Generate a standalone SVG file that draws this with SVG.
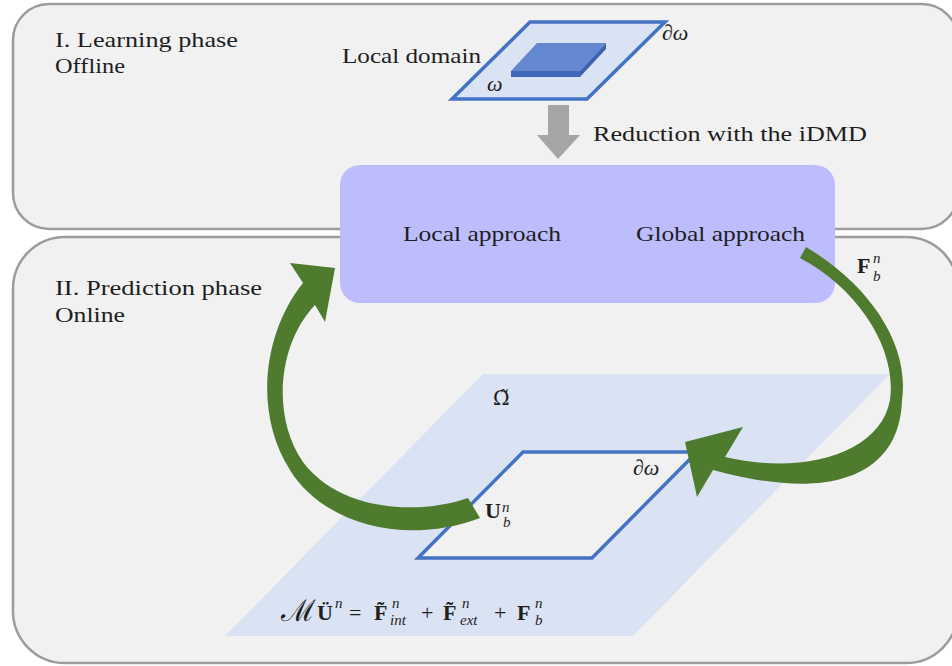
<svg xmlns="http://www.w3.org/2000/svg" width="952" height="666" viewBox="0 0 952 666">
<style>
.t{font-family:"Liberation Serif","DejaVu Serif",serif;font-size:22px;fill:#1e1e1e}
.m{font-family:"Liberation Serif","DejaVu Serif",serif;font-size:22px;fill:#1e1e1e;font-style:italic}
.b{font-family:"Liberation Serif","DejaVu Serif",serif;font-size:22px;fill:#1e1e1e;font-weight:bold}
.s{font-family:"Liberation Serif","DejaVu Serif",serif;font-size:15px;fill:#1e1e1e;font-style:italic}
.panel{fill:#f1f1f1;stroke:#9c9c9c;stroke-width:2.5}
.green{fill:#4e7b2e}
</style>
<rect width="952" height="666" fill="#ffffff"/>
<g id="learning-phase">
  <rect class="panel" x="13" y="4" width="945" height="225" rx="36"/>
  <text class="t" x="55" y="47" textLength="183" lengthAdjust="spacingAndGlyphs">I. Learning phase</text>
  <text class="t" x="55" y="73" textLength="70" lengthAdjust="spacingAndGlyphs">Offline</text>
</g>
<g id="prediction-phase">
  <rect class="panel" x="13" y="237" width="945" height="426" rx="52"/>
  <text class="t" x="55" y="295" textLength="207" lengthAdjust="spacingAndGlyphs">II. Prediction phase</text>
  <text class="t" x="55" y="322" textLength="70" lengthAdjust="spacingAndGlyphs">Online</text>
</g>
<g id="local-domain">
  <polygon points="530,22 665,22 587,99 452,99" fill="#dae3f3" stroke="#4472c4" stroke-width="3.5" stroke-linejoin="miter"/>
  <polygon points="537,43 606,43 580,71 511,71" fill="#6388d0"/>
  <polygon points="511,71 580,71 580,77 511,77" fill="#4169b9"/>
  <polygon points="580,71 606,43 606,49 580,77" fill="#3d63b0"/>
  <text class="t" x="342" y="63" textLength="139" lengthAdjust="spacingAndGlyphs">Local domain</text>
  <text class="m" x="487" y="91">ω</text>
  <text class="m" x="662" y="40">∂ω</text>
</g>
<g id="reduction">
  <polygon points="548,105 569,105 569,135 580,135 558,159 537,135 548,135" fill="#a5a5a5"/>
  <text class="t" x="593" y="141" textLength="274" lengthAdjust="spacingAndGlyphs">Reduction with the iDMD</text>
</g>
<g id="approaches">
  <rect x="340" y="165" width="495" height="138" rx="20" fill="#bdbdfd"/>
  <text class="t" x="403" y="241" textLength="158" lengthAdjust="spacingAndGlyphs">Local approach</text>
  <text class="t" x="636" y="241" textLength="169" lengthAdjust="spacingAndGlyphs">Global approach</text>
</g>
<g id="global-domain">
  <polygon points="483,374 890,374 633,636 225,636" fill="#dae3f3"/>
  <text class="t" x="493" y="405" style="font-family:'DejaVu Serif',serif;font-size:20px">Ω̃</text>
  <text class="t" x="281" y="621" style="font-family:'DejaVu Serif',serif;font-size:30px">ℳ</text>
  <text class="b" x="317" y="620">Ü</text>
  <text class="s" x="335" y="608">n</text>
  <text class="t" x="349" y="620">=</text>
  <text class="b" x="374" y="620">F̃</text>
  <text class="s" x="392" y="608">n</text>
  <text class="s" x="390" y="625">int</text>
  <text class="t" x="421" y="620">+</text>
  <text class="b" x="443" y="620">F̃</text>
  <text class="s" x="462" y="608">n</text>
  <text class="s" x="460" y="625">ext</text>
  <text class="t" x="494" y="620">+</text>
  <text class="b" x="517" y="620">F</text>
  <text class="s" x="535" y="608">n</text>
  <text class="s" x="535" y="625">b</text>
</g>
<g id="boundary">
  <polygon points="523,452 697,452 592,558 418,558" fill="#f1f1f1" stroke="#4472c4" stroke-width="3.5"/>
  <text class="m" x="633" y="475">∂ω</text>
  <text class="b" x="485" y="518">U</text>
  <text class="s" x="502" y="512">n</text>
  <text class="s" x="503" y="527">b</text>
</g>
<g id="connectors">
  <path class="green" d="M303,283 C265,330 252,410 290,470 C320,520 400,548 480,518 L468,498 C420,515 340,512 303,462 C272,418 277,345 315,305 L325,322 L335,268 L290,263 Z"/>
  <path class="green" d="M806,247 C870,285 910,345 902,400 C900,470 840,505 713,470 L697,497 L685,442 L743,427 L725,457 C800,475 880,455 890,400 C897,350 860,290 800,258 Z"/>
  <text class="b" x="857" y="273">F</text>
  <text class="s" x="873" y="263">n</text>
  <text class="s" x="873" y="281">b</text>
</g>
</svg>
